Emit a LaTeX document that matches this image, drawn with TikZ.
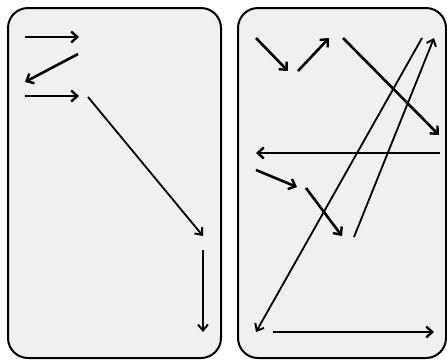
\documentclass[tikz,border=0pt]{standalone}
\usetikzlibrary{arrows.meta}
\begin{document}
\begin{tikzpicture}[x=1pt,y=-1pt,
  panel/.style={draw=black,line width=2pt,fill=black!6,rounded corners=20pt},
  thick arrow/.style={draw=black,line width=2.6pt,-{Straight Barb[length=6pt,width=11pt,line width=2.4pt]}},
  thin arrow/.style={draw=black,line width=1.8pt,-{Straight Barb[length=6pt,width=10pt,line width=1.9pt]}}]
\useasboundingbox (0,0) rectangle (447,360);
\fill[white] (0,0) rectangle (447,360);
\draw[panel] (8,8) rectangle (221,358);
\draw[panel] (238,8) rectangle (446,358);
% left panel coordinates
\coordinate (l1s) at (25,37);  \coordinate (l1e) at (79,37);
\coordinate (l2s) at (78,54);  \coordinate (l2e) at (25,82);
\coordinate (l3s) at (25,96);  \coordinate (l3e) at (79,96);
\coordinate (l4s) at (88,97);  \coordinate (l4e) at (203,236);
\coordinate (l5s) at (203,250); \coordinate (l5e) at (203,332);
\draw[thick arrow] (l1s) -- (l1e);
\draw[thick arrow] (l2s) -- (l2e);
\draw[thick arrow] (l3s) -- (l3e);
\draw[thin arrow] (l4s) -- (l4e);
\draw[thin arrow] (l5s) -- (l5e);
% right panel coordinates
\coordinate (ras) at (256,38);  \coordinate (rae) at (288,71);
\coordinate (rbs) at (298,71);  \coordinate (rbe) at (329,38);
\coordinate (rcs) at (343,38);  \coordinate (rce) at (439,135);
\coordinate (rds) at (422,38);  \coordinate (rde) at (256,332);
\coordinate (res) at (354,237); \coordinate (ree) at (434,38);
\coordinate (rfs) at (440,153); \coordinate (rfe) at (256,153);
\coordinate (rgs) at (256,170); \coordinate (rge) at (297,187);
\coordinate (rhs) at (306,188); \coordinate (rhe) at (342,236);
\coordinate (ris) at (273,332); \coordinate (rie) at (434,332);
\draw[thick arrow] (ras) -- (rae);
\draw[thick arrow] (rbs) -- (rbe);
\draw[thick arrow] (rcs) -- (rce);
\draw[thin arrow] (rds) -- (rde);
\draw[thin arrow] (res) -- (ree);
\draw[thick arrow] (rfs) -- (rfe);
\draw[thick arrow] (rgs) -- (rge);
\draw[thick arrow] (rhs) -- (rhe);
\draw[thick arrow] (ris) -- (rie);
\end{tikzpicture}
\end{document}
